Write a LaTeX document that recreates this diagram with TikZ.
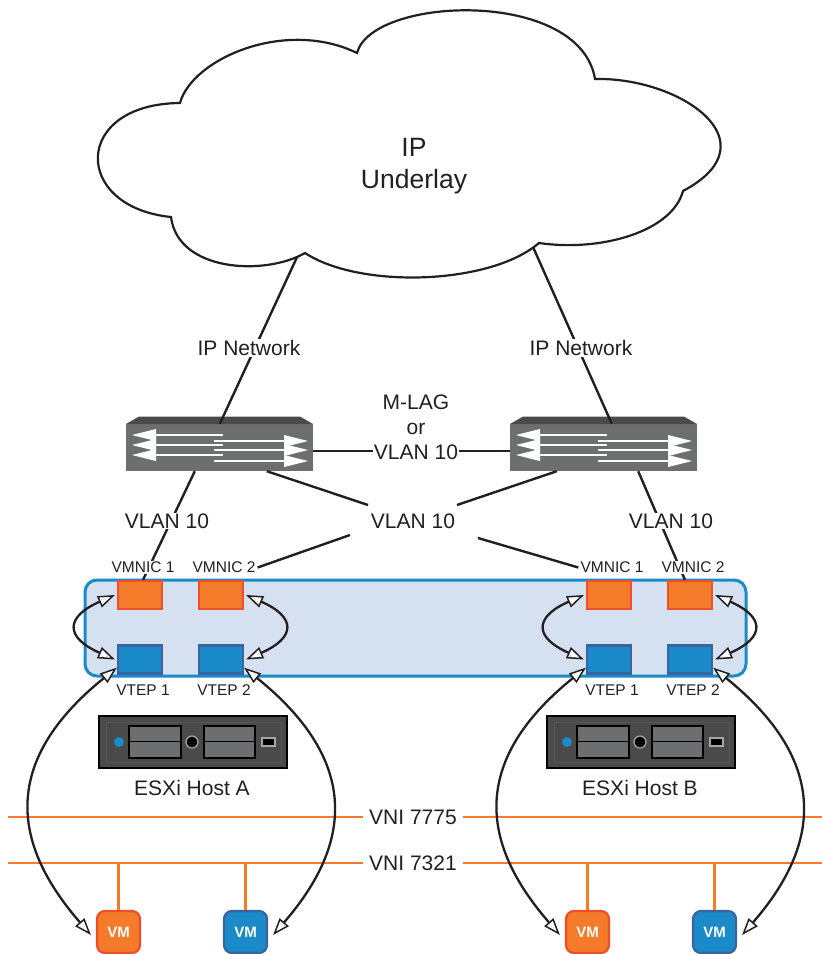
\documentclass[tikz,border=0pt]{standalone}
\usepackage{fontspec}
\setmainfont{Liberation Sans}
\usetikzlibrary{arrows.meta}
\definecolor{inkc}{HTML}{231F20}
\definecolor{orangef}{HTML}{F47B2A}
\definecolor{oranged}{HTML}{EF4E2B}
\definecolor{bluef}{HTML}{1B8AC9}
\definecolor{blued}{HTML}{3A63A0}
\definecolor{hostf}{HTML}{D5E0F0}
\definecolor{swf}{HTML}{6D6E70}
\definecolor{swt}{HTML}{4A4A4B}
\tikzset{
  lbl/.style={font=\fontsize{21}{25}\selectfont, text=inkc, fill=white, inner xsep=1pt, inner ysep=1pt},
  small/.style={font=\fontsize{15.5}{18}\selectfont, text=inkc},
  smallw/.style={small, fill=white, inner xsep=0pt, inner ysep=1pt},
  link/.style={draw=inkc, line width=2.4pt},
  bus/.style={draw=orangef, line width=2.6pt},
  orsq/.style={draw=oranged, fill=orangef, line width=2.2pt, minimum width=44pt, minimum height=28pt, inner sep=0pt},
  blsq/.style={draw=blued, fill=bluef, line width=2.2pt, minimum width=44pt, minimum height=28pt, inner sep=0pt},
  vmor/.style={draw=oranged, fill=orangef, line width=2.2pt, rounded corners=8pt, minimum width=43pt, minimum height=42pt, inner sep=0pt, text=white, font=\fontsize{15}{18}\selectfont\bfseries},
  vmbl/.style={draw=blued, fill=bluef, line width=2.2pt, rounded corners=8pt, minimum width=43pt, minimum height=42pt, inner sep=0pt, text=white, font=\fontsize{15}{18}\selectfont\bfseries},
  biarrow/.style={draw=inkc, line width=2.3pt, {Triangle[length=17pt,width=12pt,fill=white,line width=1.5pt]}-{Triangle[length=17pt,width=12pt,fill=white,line width=1.5pt]}},
  swbody/.style={fill=swf, minimum width=187pt, minimum height=47pt, inner sep=0pt},
  hostbox/.style={draw=bluef, fill=hostf, line width=3pt, rounded corners=12pt, minimum width=661pt, minimum height=96pt, inner sep=0pt},
  srv/.style={fill=swt, draw=black, line width=1.4pt, minimum width=188pt, minimum height=52pt, inner sep=0pt},
  slot/.style={fill=swf, draw=black, line width=1.6pt},
}
% switch: name, centre x
\newcommand{\switchat}[2]{%
  \node[swbody] (#1) at (#2,447.5) {};
  \begin{scope}[shift={(#2,0)}]
    \fill[swt] (-93.5,424) -- (-80.5,416.5) -- (80.5,416.5) -- (93.5,424) -- cycle;
    \foreach \yy in {435,445,455}{
      \fill[white] (-87.5,\yy) -- (-63.5,\yy-6) -- (-63.5,\yy+6) -- cycle;
      \fill[white] (-64,\yy-1.3) rectangle (3.5,\yy+1.3);
    }
    \foreach \yy in {441,450,461}{
      \fill[white] (88.5,\yy) -- (64.5,\yy-6) -- (64.5,\yy+6) -- cycle;
      \fill[white] (65,\yy-1.3) rectangle (-5.5,\yy+1.3);
    }
  \end{scope}}
% server: name, centre x
\newcommand{\serverat}[2]{%
  \node[srv] (#1) at (#2,742) {};
  \begin{scope}[shift={(#2,0)}]
    \draw[draw=swf!80!black, line width=1pt] (-87,722) rectangle (88,762);
    \fill[bluef] (-74,742) circle (5);
    \draw[slot] (-64,726) rectangle (-12,758);
    \draw[black, line width=1.6pt] (-64,741.5) -- (-12,741.5);
    \draw[slot] (11,726) rectangle (62,758);
    \draw[black, line width=1.6pt] (11,741.5) -- (62,741.5);
    \draw[fill=black, draw=gray!70, line width=1.2pt] (-1,742) circle (6);
    \draw[fill=black, draw=gray!70, line width=1.2pt] (69,738) rectangle (82,746);
  \end{scope}}
\begin{document}
\begin{tikzpicture}[x=1pt,y=-1pt]
\useasboundingbox (0,0) rectangle (822,954);
\fill[white] (0,0) rectangle (822,954);

% named anchors on the cloud
\coordinate (cloudL) at (298,255);
\coordinate (cloudR) at (533,247);

% switches
\switchat{swL}{219.5}
\switchat{swR}{603.5}

% uplinks
\draw[link] (cloudL) -- ([xshift=94pt]swL.north west);
\draw[link] (cloudR) -- ([xshift=102pt]swR.north west);

% cloud
\draw[draw=inkc, fill=white, line width=2.2pt, line join=miter]
  (180,103) .. controls (192,59) and (285,18) .. (357,53)
  .. controls (372,-4) and (580,-12) .. (595,79)
  .. controls (680,77) and (775,142) .. (683,191)
  .. controls (672,232) and (600,252) .. (539,243)
  .. controls (490,285) and (360,289) .. (305,253)
  .. controls (265,276) and (178,272) .. (171,217)
  .. controls (72,207) and (72,104) .. (180,103) -- cycle;
\node[font=\fontsize{26.5}{32}\selectfont, text=inkc, align=center] (cloudtxt) at (414,166) {IP\\Underlay};

% free ends of the VLAN links
\coordinate (xa) at (368,505);
\coordinate (xb) at (457,505);
\coordinate (xc) at (350,535);
\coordinate (xd) at (478,538);

% host
\node[hostbox] (host) at (415.5,628) {};

% ports
\node[orsq] (oa1) at (140,595) {};
\node[orsq] (oa2) at (221,595) {};
\node[orsq] (ob1) at (609,595) {};
\node[orsq] (ob2) at (690,595) {};
\node[blsq] (ba1) at (140,659.5) {};
\node[blsq] (ba2) at (221,659.5) {};
\node[blsq] (bb1) at (609,659.5) {};
\node[blsq] (bb2) at (690,659.5) {};

\draw[link] ([xshift=69pt]swL.south west) -- ([xshift=3pt]oa1.north);
\draw[link] ([xshift=-59pt]swR.south east) -- ([xshift=-5pt]ob2.north);
\draw[link] (swL.east |- 0,451) -- (swR.west |- 0,451);
\draw[link] ([xshift=141pt]swL.south west) -- (xa);
\draw[link] ([xshift=47pt]swR.south west) -- (xb);

% labels
\node[lbl] (ipL) at (249,348) {IP Network};
\node[lbl] (ipR) at (581,348) {IP Network};
\node[lbl, align=center, font=\fontsize{21}{25}\selectfont] (mlag) at (416,427) {M-LAG\\or\\VLAN 10};
\node[lbl] (vl1) at (167,521) {VLAN 10};
\node[lbl] (vl2) at (413,521) {VLAN 10};
\node[lbl] (vl3) at (671,521) {VLAN 10};
\node[smallw] (na1) at (143,567.5) {VMNIC 1};
\node[smallw] (na2) at (224,567.5) {VMNIC 2};
\node[smallw] (nb1) at (612,567.5) {VMNIC 1};
\node[smallw] (nb2) at (693,567.5) {VMNIC 2};
\node[small] (ta1) at (143,690) {VTEP 1};
\node[small] (ta2) at (224,690) {VTEP 2};
\node[small] (tb1) at (612,690) {VTEP 1};
\node[small] (tb2) at (693,690) {VTEP 2};

\draw[link] (xc) -- ([xshift=2pt]na2.east);
\draw[link] (xd) -- ([xshift=-2pt]nb1.west);

% servers
\serverat{srvA}{193}
\serverat{srvB}{641}
\node[lbl, fill=none] (ha) at (192,788) {ESXi Host A};
\node[lbl, fill=none] (hb) at (640,788) {ESXi Host B};

% VNI buses
\coordinate (busAl) at (8,817);
\coordinate (busAr) at (822,817);
\coordinate (busBl) at (8,863);
\coordinate (busBr) at (822,863);
\draw[bus] (busAl) -- (busAr);
\draw[bus] (busBl) -- (busBr);

% VMs
\node[vmor] (vm1) at (118.5,932) {VM};
\node[vmbl] (vm2) at (245.5,932) {VM};
\node[vmor] (vm3) at (587.5,932) {VM};
\node[vmbl] (vm4) at (714.5,932) {VM};
\draw[bus] (vm1.north |- 0,863) -- (vm1.north);
\draw[bus] (vm2.north |- 0,863) -- (vm2.north);
\draw[bus] (vm3.north |- 0,863) -- (vm3.north);
\draw[bus] (vm4.north |- 0,863) -- (vm4.north);

% VNI labels
\node[lbl, inner xsep=6pt] (vni1) at (413,817) {VNI 7775};
\node[lbl, inner xsep=6pt] (vni2) at (413,863) {VNI 7321};

% short bidirectional arcs
\draw[biarrow] ([xshift=-2pt]oa1.west) .. controls +(-50,22) and +(-50,-22) .. ([xshift=-2pt]ba1.west);
\draw[biarrow] ([xshift=2pt]oa2.east) .. controls +(50,22) and +(50,-22) .. ([xshift=2pt]ba2.east);
\draw[biarrow] ([xshift=-2pt]ob1.west) .. controls +(-50,22) and +(-50,-22) .. ([xshift=-2pt]bb1.west);
\draw[biarrow] ([xshift=2pt]ob2.east) .. controls +(50,22) and +(50,-22) .. ([xshift=2pt]bb2.east);

% long bidirectional arcs
\draw[biarrow] ([shift={(0pt,7pt)}]ba1.south west) .. controls +(-124,100) and +(-72,-83) .. ([shift={(-5pt,-3pt)}]vm1.west);
\draw[biarrow] ([shift={(0pt,7pt)}]ba2.south east) .. controls +(124,100) and +(72,-83) .. ([shift={(5pt,-3pt)}]vm2.east);
\draw[biarrow] ([shift={(0pt,7pt)}]bb1.south west) .. controls +(-124,100) and +(-72,-83) .. ([shift={(-5pt,-3pt)}]vm3.west);
\draw[biarrow] ([shift={(0pt,7pt)}]bb2.south east) .. controls +(124,100) and +(72,-83) .. ([shift={(5pt,-3pt)}]vm4.east);
\end{tikzpicture}
\end{document}
